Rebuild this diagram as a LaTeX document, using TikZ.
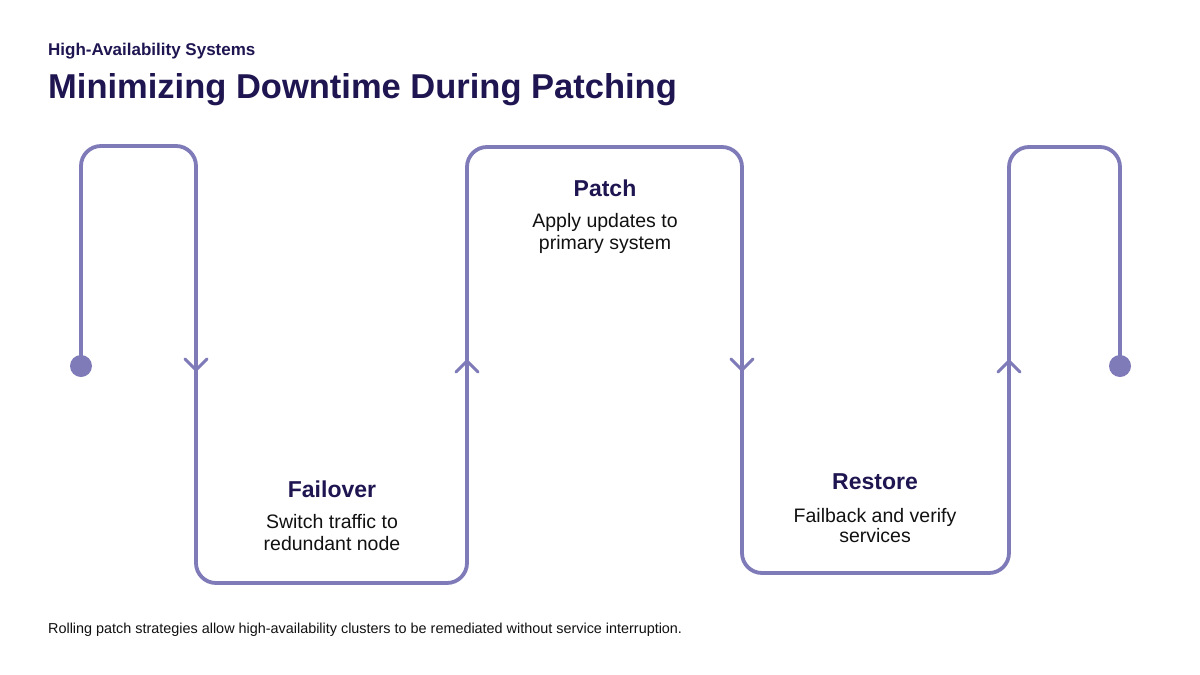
\documentclass[tikz,border=0pt]{standalone}
\usepackage{fontspec}
\setmainfont{Liberation Sans}
\definecolor{linec}{HTML}{7F7BB9}
\definecolor{navy}{HTML}{1F1651}
\definecolor{bodyc}{HTML}{111111}
\begin{document}
\begin{tikzpicture}[x=1pt,y=-1pt,
  flow/.style={draw=linec,line width=3.8pt,rounded corners=20pt},
  chev/.style={draw=linec,line width=3pt,line cap=round},
  dotnode/.style={circle,fill=linec,inner sep=0pt,minimum size=22pt},
  steptitle/.style={font=\bfseries\fontsize{23}{27}\selectfont,text=navy,anchor=center},
  stepdesc/.style={font=\fontsize{19.5}{21.5}\selectfont,text=bodyc,align=center,anchor=north},
]
\useasboundingbox[fill=white] (0,0) rectangle (1200,675);

% titles
\node[anchor=base west,inner sep=0pt,text=navy,font=\bfseries\fontsize{17}{20}\selectfont] (kicker) at (48,55) {High-Availability Systems};
\node[anchor=base west,inner sep=0pt,text=navy,font=\bfseries\fontsize{34.5}{40}\selectfont] (title) at (48,98) {Minimizing Downtime During Patching};

% dots
\node[dotnode] (s) at (81,366) {};
\node[dotnode] (e) at (1120,366) {};

% corners
\coordinate (c1) at (81,146);
\coordinate (c2) at (196,146);
\coordinate (c3) at (196,583);
\coordinate (c4) at (467,583);
\coordinate (c5) at (467,147);
\coordinate (c6) at (742,147);
\coordinate (c7) at (742,573);
\coordinate (c8) at (1009,573);
\coordinate (c9) at (1009,147);
\coordinate (c10) at (1120,147);

\draw[flow] (s.center) -- (c1) -- (c2) -- (c3) -- (c4) -- (c5) -- (c6) -- (c7) -- (c8) -- (c9) -- (c10) -- (e.center);

% chevrons
\coordinate (a1) at (196,370);
\coordinate (a2) at (467,361);
\coordinate (a3) at (742,370);
\coordinate (a4) at (1009,361);
\draw[chev] ([shift={(-11,-11)}]a1) -- (a1) -- ([shift={(11,-11)}]a1);
\draw[chev] ([shift={(-11,11)}]a2) -- (a2) -- ([shift={(11,11)}]a2);
\draw[chev] ([shift={(-11,-11)}]a3) -- (a3) -- ([shift={(11,-11)}]a3);
\draw[chev] ([shift={(-11,11)}]a4) -- (a4) -- ([shift={(11,11)}]a4);

% step labels
\node[steptitle] (patch) at (605,188) {Patch};
\node[stepdesc] (patchd) at (605,210) {Apply updates to\\primary system};
\node[steptitle] (fail) at (332,489) {Failover};
\node[stepdesc] (faild) at (332,511) {Switch traffic to\\redundant node};
\node[steptitle] (rest) at (875,482) {Restore};
\node[stepdesc,font=\fontsize{19.5}{20}\selectfont] (restd) at (875,505) {Failback and verify\\services};

% footer
\node[anchor=base west,inner sep=0pt,text=bodyc,font=\fontsize{14.4}{17}\selectfont] (foot) at (48,633) {Rolling patch strategies allow high-availability clusters to be remediated without service interruption.};
\end{tikzpicture}
\end{document}
